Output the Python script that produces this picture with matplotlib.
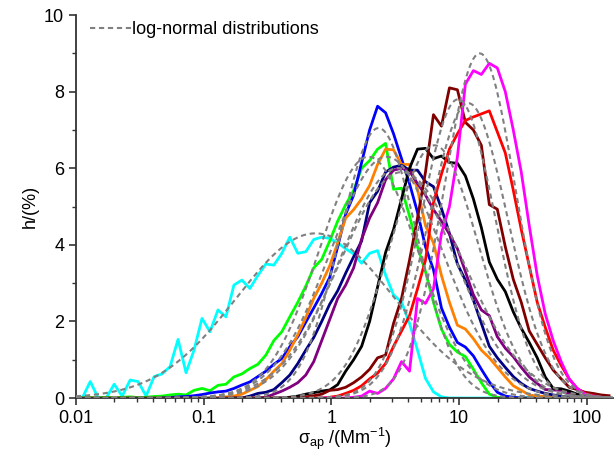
import numpy as np
import matplotlib
matplotlib.use("Agg")
import matplotlib.pyplot as plt
from matplotlib.ticker import LogLocator, MultipleLocator, FixedLocator

plt.rcParams['font.family'] = ['Liberation Sans', 'DejaVu Sans']
plt.rcParams['mathtext.default'] = 'regular'

# bin centres (16 bins per decade)
n_bins = 67
sigma_ap = 10 ** (-1.951 + np.arange(n_bins) / 16)

# measured histograms: (first bin index, values)
cyan = (0, [0.0, 0.43, 0.0, 0.0, 0.36, 0.05, 0.47, 0.43, 0.05, 0.56, 0.63, 0.82,
            1.53, 0.66, 1.25, 2.08, 1.73, 2.3, 2.12, 2.95, 3.08, 2.86, 3.2, 3.5,
            3.47, 3.78, 4.2, 3.78, 3.82, 4.14, 4.2, 4.17, 4.05, 3.9, 3.76, 3.52,
            3.78, 3.85, 3.21, 2.69, 2.51, 1.95, 1.25, 0.51, 0.16, 0.03, 0.0, 0.0,
            0.0, 0.0, 0.0, 0.0, 0.0, 0.0, 0.0, 0.0, 0.0, 0.0, 0.0, 0.0, 0.0, 0.0,
            0.0, 0.0, 0.0, 0.0, 0.0])
green = (0, [0.0, 0.01, 0.0, 0.02, 0.0, 0.02, 0.03, 0.01, 0.02, 0.04, 0.05, 0.08,
             0.1, 0.08, 0.2, 0.25, 0.19, 0.33, 0.36, 0.55, 0.63, 0.77, 0.88, 1.12,
             1.5, 1.73, 2.12, 2.5, 2.92, 3.4, 3.62, 4.1, 4.62, 5.05, 5.42, 6.0,
             6.2, 6.5, 6.65, 5.45, 5.48, 4.75, 3.95, 3.3, 2.5, 1.8, 1.4, 1.2, 1.08,
             0.75, 0.4, 0.1, 0.02, 0.0, 0.0, 0.0, 0.0, 0.0, 0.0, 0.0, 0.0, 0.0,
             0.0, 0.0, 0.0, 0.0, 0.0])
blue = (10, [0.0, 0.01, 0.03, 0.04, 0.06, 0.09, 0.13, 0.16, 0.18, 0.25, 0.34, 0.42,
             0.56, 0.7, 0.88, 1.03, 1.34, 1.6, 1.98, 2.35, 2.73, 3.15, 3.95, 4.8,
             5.3, 6.15, 7.0, 7.62, 7.45, 6.9, 6.25, 5.6, 4.85, 3.95, 3.35, 2.35,
             1.85, 1.45, 1.33, 1.1, 0.75, 0.42, 0.15, 0.05, 0.02, 0.0, 0.0, 0.0,
             0.0, 0.0, 0.0, 0.0, 0.0, 0.0, 0.0, 0.0, 0.0])
orange = (16, [0.0, 0.0, 0.03, 0.05, 0.1, 0.2, 0.3, 0.48, 0.7, 0.9, 1.25, 1.65, 2.1,
               2.6, 3.0, 3.45, 4.05, 4.7, 4.92, 5.2, 5.55, 6.1, 6.5, 6.48, 6.1,
               6.1, 5.45, 4.5, 4.05, 3.2, 2.5, 1.9, 1.8, 1.55, 1.25, 1.05, 0.8,
               0.55, 0.32, 0.2, 0.08, 0.05, 0.04, 0.03, 0.03, 0.02, 0.02, 0.0,
               0.0, 0.0, 0.0])
navy = (19, [0.0, 0.0, 0.05, 0.12, 0.15, 0.22, 0.4, 0.6, 0.9, 1.25, 1.58, 2.0, 2.45,
             2.8, 3.26, 3.69, 4.1, 5.1, 5.4, 5.9, 6.03, 6.08, 5.95, 5.95, 5.65,
             5.52, 4.95, 4.3, 3.5, 3.08, 2.56, 1.95, 1.35, 1.05, 0.8, 0.56, 0.38,
             0.25, 0.18, 0.12, 0.08, 0.05, 0.02, 0.02, 0.0, 0.0, 0.0, 0.0])
purple = (21, [0.0, 0.0, 0.02, 0.1, 0.18, 0.28, 0.4, 0.6, 0.95, 1.5, 2.05, 2.6,
               2.95, 3.4, 4.15, 4.7, 5.1, 5.7, 5.95, 6.0, 5.93, 5.6, 5.3, 4.92,
               4.62, 4.28, 3.9, 3.3, 2.7, 2.3, 2.15, 1.6, 1.3, 1.08, 0.8, 0.55,
               0.38, 0.22, 0.21, 0.2, 0.12, 0.05, 0.02, 0.0, 0.0, 0.0])
black = (24, [0.0, 0.0, 0.02, 0.05, 0.1, 0.14, 0.18, 0.21, 0.35, 0.7, 1.0, 1.35,
              2.0, 2.9, 3.8, 4.4, 5.2, 6.0, 6.5, 6.52, 6.25, 6.32, 6.15, 6.13,
              5.8, 5.2, 4.45, 3.55, 3.1, 2.78, 2.25, 1.82, 1.45, 1.05, 0.55, 0.25,
              0.24, 0.18, 0.1, 0.04, 0.02, 0.0, 0.0])
maroon = (0, [0.0] * 28 + [0.03, 0.06, 0.1, 0.2, 0.22, 0.28, 0.4, 0.55, 0.75, 1.05,
                           1.12, 1.95, 2.6, 3.6, 4.7, 5.9, 7.4, 7.1, 8.1, 8.05, 7.2,
                           7.0, 6.6, 5.05, 4.93, 3.95, 3.1, 2.5, 1.75, 1.4, 1.05,
                           0.73, 0.5, 0.28, 0.22, 0.15, 0.12, 0.08, 0.06])
red = (28, [0.0, 0.0, 0.0, 0.02, 0.05, 0.12, 0.2, 0.32, 0.5, 0.65, 0.9, 1.35, 1.75,
            2.15, 2.85, 3.6, 5.1, 5.85, 6.5, 6.9, 7.25, 7.34, 7.42, 7.5, 6.95,
            6.4, 5.43, 4.4, 3.45, 2.5, 1.85, 1.25, 0.85, 0.5, 0.25, 0.12, 0.06,
            0.02, 0.0])
magenta = (30, [0.0, 0.0, 0.0, 0.0, 0.02, 0.05, 0.18, 0.12, 0.25, 0.5, 0.95, 0.7,
                2.6, 2.47, 2.85, 4.3, 5.0, 6.3, 8.2, 8.55, 8.45, 8.74, 8.62, 8.0,
                7.0, 5.9, 4.5, 3.2, 2.2, 1.5, 0.95, 0.5, 0.25, 0.1, 0.05, 0.02,
                0.0])

series = [cyan, green, blue, orange, navy, purple, black, maroon, red, magenta]
colors = ['#00ffff', '#00ff00', '#0000ff', '#ff8000', '#000080', '#800080',
          '#000000', '#800000', '#ff0000', '#ff00ff']

# log-normal fits: peak height, median (Mm-1), log10 width
fit_peak = [4.3, 6.3, 7.05, 6.3, 6.0, 5.9, 6.6, 7.8, 7.7, 9.0]
fit_median = [0.75, 1.95, 2.34, 2.7, 3.3, 3.55, 6.4, 9.8, 11.8, 14.5]
fit_width = [0.62, 0.39, 0.30, 0.44, 0.45, 0.48, 0.345, 0.29, 0.31, 0.28]

fig = plt.figure(figsize=(6.15, 4.51), dpi=100)
ax = fig.add_axes([0.1236, 0.1175, 0.873, 0.849])

for (start, vals), c in zip(series, colors):
    ax.plot(sigma_ap[start:start + len(vals)], vals, color=c, lw=2.0, zorder=2)

xf = np.logspace(-2, np.log10(160), 400)
for i, (a, m, s) in enumerate(zip(fit_peak, fit_median, fit_width)):
    yf = a * np.exp(-(np.log10(xf) - np.log10(m)) ** 2 / (2 * s ** 2))
    ax.plot(xf, yf, color='#808080', lw=1.5, ls=(0, (2.5, 1.8)), zorder=3,
            label='log-normal distributions' if i == 0 else None)

ax.set_xscale('log')
ax.set_xlim(0.01, 160)
ax.set_ylim(0, 10)
ax.xaxis.set_major_locator(FixedLocator([0.01, 0.1, 1, 10, 100]))
ax.set_xticklabels(['0.01', '0.1', '1', '10', '100'])
ax.xaxis.set_minor_locator(LogLocator(base=10, subs=np.arange(2, 10)))
ax.yaxis.set_major_locator(MultipleLocator(2))
ax.yaxis.set_minor_locator(MultipleLocator(1))

for side in ['top', 'right']:
    ax.spines[side].set_visible(False)
for side in ['left', 'bottom']:
    ax.spines[side].set_linewidth(1.3)
    ax.spines[side].set_color('#333333')
ax.tick_params(which='major', direction='out', length=5, width=1.2, labelsize=13, colors='#333333', labelcolor='black')
ax.tick_params(which='minor', direction='out', length=3, width=1.0, colors='#333333')

ax.set_ylabel('h/(%)', fontsize=13)
ax.set_xlabel(r'$\sigma_{ap}$ /(Mm$^{-1}$)', fontsize=13, labelpad=-1)

ax.legend(loc='upper left', frameon=False, fontsize=13, handlelength=2.3,
          handletextpad=0.05, borderpad=0, borderaxespad=0,
          bbox_to_anchor=(0.026, 0.985))

fig.savefig('out.png', dpi=100)
